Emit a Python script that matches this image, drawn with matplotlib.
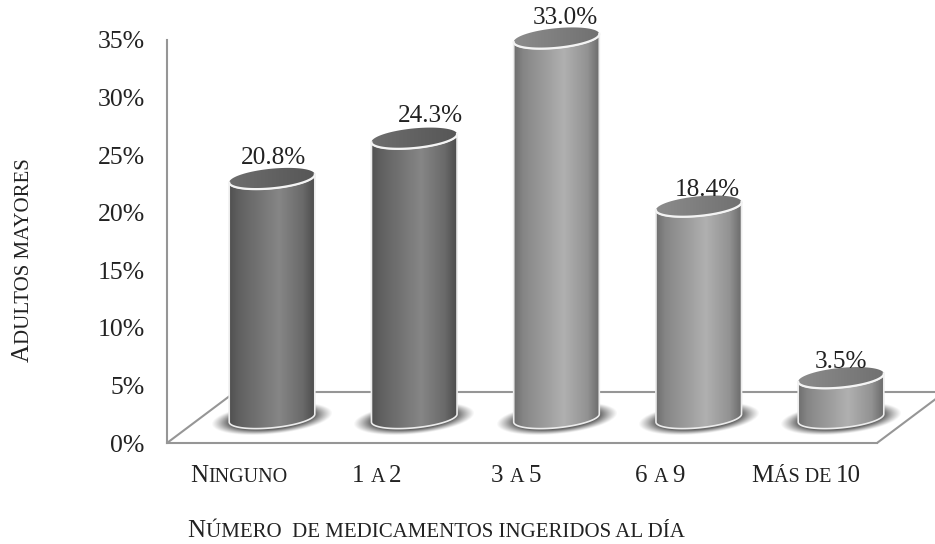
import numpy as np
import matplotlib
matplotlib.use("Agg")
import matplotlib.pyplot as plt
from matplotlib.colors import LinearSegmentedColormap
from matplotlib.font_manager import FontProperties
from matplotlib.patches import PathPatch
from matplotlib.path import Path
from matplotlib.ticker import FuncFormatter
from matplotlib.transforms import Affine2D, IdentityTransform

categories = ["Ninguno", "1 a 2", "3 a 5", "6 a 9", "Más de 10"]
values = [20.8, 24.3, 33.0, 18.4, 3.5]
value_labels = ["20.8%", "24.3%", "33.0%", "18.4%", "3.5%"]
y_ticks = [0, 5, 10, 15, 20, 25, 30, 35]
x_title = "Número  de medicamentos ingeridos al día"
y_title = "Adultos mayores"

W, H = 935, 544
SERIF = "Liberation Serif"
LINE = "#969696"
INK = "#222222"

# plot box in pixels, measured from the top-left corner
BOX_L, BOX_R, BOX_T, BOX_B = 167, 877, 40, 443
FIRST_BAR_X, BAR_STEP = 272, 142.25
DEPTH = 25       # pixels between the front wall line and the bar bases
FLOOR_BACK = 51  # pixels from the front floor line to the back one
SEMI_A, SEMI_B, TILT = 43, 9.8, np.deg2rad(5.6)

# value label shift from the cylinder top centre, pixels
label_dx = [1, 16, 9, 9, 0]
label_dy = [21, 22, 20, 16, 16]

dark = LinearSegmentedColormap.from_list(
    "dark", [(0, "#4e4e4e"), (0.12, "#606060"), (0.58, "#868686"), (0.85, "#6a6a6a"), (1, "#4a4a4a")])
light = LinearSegmentedColormap.from_list(
    "light", [(0, "#6c6c6c"), (0.12, "#868686"), (0.58, "#b0b0b0"), (0.85, "#929292"), (1, "#666666")])
top_dark = LinearSegmentedColormap.from_list("top_dark", ["#6e6e6e", "#565656"])
top_light = LinearSegmentedColormap.from_list("top_light", ["#8c8c8c", "#707070"])
body_maps = [dark, dark, light, light, light]
top_maps = [top_dark, top_dark, top_light, top_light, top_light]

fig = plt.figure(figsize=(W / 100, H / 100), dpi=100)
ax = fig.add_axes([BOX_L / W, 1 - BOX_B / H, (BOX_R - BOX_L) / W, (BOX_B - BOX_T) / H])
ax.set_xlim((BOX_L - FIRST_BAR_X) / BAR_STEP, (BOX_R - FIRST_BAR_X) / BAR_STEP)
ax.set_ylim(0, 35)
PX_Y = (BOX_B - BOX_T) / 35.0

for side in ("top", "right"):
    ax.spines[side].set_visible(False)
for side in ("left", "bottom"):
    ax.spines[side].set_color(LINE)
    ax.spines[side].set_linewidth(1.5)
ax.set_xticks([])
ax.set_yticks(y_ticks)
ax.yaxis.set_major_formatter(FuncFormatter(lambda v, _: f"{v:.0f}%"))
ax.tick_params(axis="y", length=0, pad=16, labelsize=18.5, labelcolor=INK)
for lab in ax.get_yticklabels():
    lab.set_fontfamily(SERIF)


def to_data(cx, cy, dx, dy):
    """Pixel offsets (dy upward) around a data point, returned in data units."""
    return cx + np.asarray(dx) / BAR_STEP, cy + np.asarray(dy) / PX_Y


def ellipse_pts(t):
    """Points of the tilted cylinder cap for parameter t, pixel offsets."""
    ex, ey = SEMI_A * np.cos(t), SEMI_B * np.sin(t)
    return ex * np.cos(TILT) - ey * np.sin(TILT), ex * np.sin(TILT) + ey * np.cos(TILT)


def clipped_gradient(cmap, x0, x1, y0, y1, patch, zorder):
    grad = np.linspace(0, 1, 256)[None, :]
    im = ax.imshow(grad, cmap=cmap, extent=(x0, x1, y0, y1), aspect="auto",
                   interpolation="bilinear", zorder=zorder)
    im.set_clip_box(fig.bbox)
    im.set_clip_path(patch)


# receding floor lines behind the bars
bx = (235 - FIRST_BAR_X) / BAR_STEP
ex = (945 - FIRST_BAR_X) / BAR_STEP
rx = (BOX_R - FIRST_BAR_X) / BAR_STEP
lx = (BOX_L - FIRST_BAR_X) / BAR_STEP
back = FLOOR_BACK / PX_Y
line_kw = dict(color=LINE, lw=1.5, clip_on=False, zorder=1, solid_capstyle="butt")
ax.plot([lx, bx], [0, back], **line_kw)
ax.plot([bx, ex], [back, back], **line_kw)
ax.plot([rx, ex], [0, back], **line_kw)

base = DEPTH / PX_Y
for i, val in enumerate(values):
    top = base + val

    # soft contact shadow on the floor, tilted with the cylinder
    gx = np.linspace(-64, 64, 129)
    gy = np.linspace(-22, 22, 67)
    xx, yy = np.meshgrid(gx, gy)
    ux = xx * np.cos(TILT) + yy * np.sin(TILT)
    uy = -xx * np.sin(TILT) + yy * np.cos(TILT)
    r = np.sqrt((ux / 60) ** 2 + ((uy + 0.5) / 15.5) ** 2)
    shade = np.zeros(r.shape + (4,))
    shade[..., :3] = 0.33
    shade[..., 3] = np.clip((1.02 - r) / 0.3, 0, 1) ** 1.1 * 0.9
    x0, y0 = to_data(i, base, -64, -22)
    x1, y1 = to_data(i, base, 64, 22)
    sh = ax.imshow(shade, extent=(x0, x1, y0, y1), origin="lower", aspect="auto",
                   interpolation="bilinear", zorder=2)
    sh.set_clip_box(fig.bbox)

    # cylinder wall: upper front arc of the cap, then lower arc of the base
    t_top = np.linspace(np.pi, 2 * np.pi, 60)
    t_bot = np.linspace(0, -np.pi, 60)
    ax_top, ay_top = ellipse_pts(t_top)
    ax_bot, ay_bot = ellipse_pts(t_bot)
    xs1, ys1 = to_data(i, top, ax_top, ay_top)
    xs2, ys2 = to_data(i, base, ax_bot, ay_bot)
    verts = np.column_stack([np.r_[xs1, xs2], np.r_[ys1, ys2]])
    wall = PathPatch(Path(np.vstack([verts, verts[0]]), closed=True),
                     fc="none", ec="#ececec", lw=1.2, clip_on=False, zorder=4)
    ax.add_patch(wall)
    x0, _ = to_data(i, top, -SEMI_A - 1, 0)
    x1, _ = to_data(i, top, SEMI_A + 1, 0)
    _, y0 = to_data(i, base, 0, -20)
    _, y1 = to_data(i, top, 0, 20)
    clipped_gradient(body_maps[i], x0, x1, y0, y1, wall, 3)

    # cylinder cap
    t_cap = np.linspace(0, 2 * np.pi, 120)
    cx, cy = ellipse_pts(t_cap)
    xs, ys = to_data(i, top, cx, cy)
    cap = PathPatch(Path(np.column_stack([xs, ys]), closed=False),
                    fc="none", ec="none", clip_on=False, zorder=5)
    ax.add_patch(cap)
    clipped_gradient(top_maps[i], x0, x1, y0, y1, cap, 5)
    # bright rim along the cap's front edge only
    fx, fy = to_data(i, top, ax_top, ay_top)
    ax.plot(fx, fy, color="#f4f4f4", lw=1.6, clip_on=False, zorder=6)

    ax.text(i, top, value_labels[i], family=SERIF, size=18.2, color=INK,
            ha="center", va="center", clip_on=False, zorder=7,
            transform=ax.transData + Affine2D().translate(label_dx[i], label_dy[i]))

ax.set_xlim((BOX_L - FIRST_BAR_X) / BAR_STEP, (BOX_R - FIRST_BAR_X) / BAR_STEP)
ax.set_ylim(0, 35)

# small-caps text: capitals and digits at full size, lowercase as reduced capitals
renderer = fig.canvas.get_renderer()


def run_width(s, size):
    prop = FontProperties(family=SERIF, size=size)
    w_all = renderer.get_text_width_height_descent("|" + s + "|", prop, False)[0]
    w_bar = renderer.get_text_width_height_descent("||", prop, False)[0]
    return w_all - w_bar


def small_caps(s, px, py, big, small, rotation=0):
    runs = []
    for ch in s:
        is_small = ch.islower() or (ch == " " and runs and runs[-1][1])
        if runs and runs[-1][1] == is_small:
            runs[-1][0] += ch.upper()
        else:
            runs.append([ch.upper(), is_small])
    widths = [run_width(r, small if sm else big) for r, sm in runs]
    pos = -sum(widths) / 2.0
    for (r, sm), w in zip(runs, widths):
        if rotation == 90:
            x, y = px, (H - py) + pos
        else:
            x, y = px + pos, H - py
        fig.text(x, y, r, family=SERIF, size=small if sm else big, color=INK,
                 transform=IdentityTransform(), rotation=rotation,
                 rotation_mode="anchor", ha="left", va="baseline")
        pos += w


for name, px in zip(categories, [239, 377, 516, 660, 806]):
    small_caps(name, px, 482, 18, 14.5)
small_caps(x_title, 436, 537, 18, 15)
small_caps(y_title, 29, 260, 18, 15, rotation=90)

fig.savefig("out.png", dpi=100)
